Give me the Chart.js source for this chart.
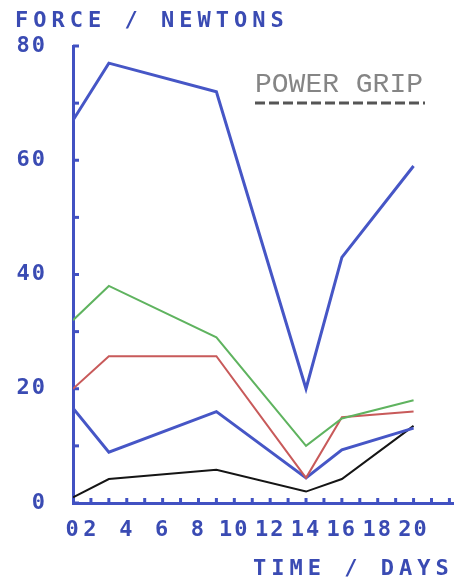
<!DOCTYPE html>
<html>
<head>
<meta charset="utf-8">
<script src="https://cdn.jsdelivr.net/npm/chart.js@4/dist/chart.umd.min.js"></script>
<style>
  html, body { margin: 0; padding: 0; background: #fff; }
  canvas { display: block; }
</style>
</head>
<body>
<canvas id="chart" width="457" height="581"></canvas>
<script>
// datos (x en unidades de marca del eje)
const days = [0, 2, 8, 13, 15, 19];
const powerGrip = [67, 77, 72, 20, 43, 59];
const gripGreen = [32, 38, 29, 10, 14.8, 18];
const gripRed = [20, 25.7, 25.7, 4.4, 15, 16];
const gripBlue = [16.6, 8.9, 16, 4.4, 9.3, 13.1];
const gripBlack = [1, 4.2, 5.8, 2, 4.2, 13.5];

const xTickLabels = ['0', '2', '4', '6', '8', '10', '12', '14', '16', '18', '20'];
const yTickLabels = ['0', '20', '40', '60', '80'];

const yTitle = 'FORCE / NEWTONS';
const xTitle = 'TIME / DAYS';
const seriesLabel = 'POWER GRIP';

const axisBlue = '#4151c2';
const textBlue = '#3a4bb3';

const puntos = (vals) => days.map((d, i) => ({ x: d, y: vals[i] }));

// marcas, titulos y rotulo
const decor = {
  id: 'decor',
  beforeDraw(chart) {
    chart.ctx.letterSpacing = '2px';
  },
  beforeDatasetsDraw(chart) {
    const { ctx, scales: { x, y } } = chart;
    ctx.save();
    ctx.strokeStyle = axisBlue;
    ctx.lineWidth = 3;
    for (let v = 0; v <= 80; v += 10) {
      const py = y.getPixelForValue(v);
      ctx.beginPath();
      ctx.moveTo(x.left, py);
      ctx.lineTo(x.left + 6, py);
      ctx.stroke();
    }
    for (let d = 1; d <= 21; d++) {
      const px = x.getPixelForValue(d);
      ctx.beginPath();
      ctx.moveTo(px, y.bottom);
      ctx.lineTo(px, y.bottom - 5);
      ctx.stroke();
    }
    ctx.restore();
  },
  afterDraw(chart) {
    const { ctx } = chart;
    ctx.save();
    ctx.letterSpacing = '5px';
    ctx.font = 'bold 22px "DejaVu Sans Mono"';
    ctx.fillStyle = textBlue;
    ctx.textBaseline = 'alphabetic';
    ctx.textAlign = 'left';
    ctx.fillText(yTitle, 15, 27);
    ctx.fillText(xTitle, 253, 575);

    ctx.letterSpacing = '0px';
    ctx.font = '28px "Liberation Mono"';
    ctx.fillStyle = '#858585';
    ctx.fillText(seriesLabel, 255, 92);
    ctx.strokeStyle = '#555';
    ctx.lineWidth = 3;
    ctx.setLineDash([10, 4]);
    ctx.beginPath();
    ctx.moveTo(255, 103);
    ctx.lineTo(425, 103);
    ctx.stroke();
    ctx.restore();
    ctx.letterSpacing = '0px';
  }
};

const ctx = document.getElementById('chart').getContext('2d');
new Chart(ctx, {
  type: 'line',
  data: {
    datasets: [
      { label: 'Power grip', data: puntos(powerGrip), borderColor: '#4656c6', borderWidth: 3 },
      { label: 'Verde', data: puntos(gripGreen), borderColor: '#5fb35f', borderWidth: 2 },
      { label: 'Rojo', data: puntos(gripRed), borderColor: '#c85a5a', borderWidth: 2 },
      { label: 'Azul', data: puntos(gripBlue), borderColor: '#4656c6', borderWidth: 3 },
      { label: 'Negro', data: puntos(gripBlack), borderColor: '#151515', borderWidth: 2 }
    ]
  },
  options: {
    responsive: false,
    animation: false,
    devicePixelRatio: 1,
    elements: { point: { radius: 0 }, line: { tension: 0 } },
    layout: { padding: { left: 15, top: 46, right: 4, bottom: 0 } },
    plugins: { legend: { display: false }, tooltip: { enabled: false } },
    scales: {
      x: {
        type: 'linear',
        min: 0,
        max: 21.2,
        afterFit: (s) => { s.height = 78; s.paddingLeft = 0; s.paddingRight = 0; },
        grid: { display: false, drawTicks: false },
        border: { display: true, color: axisBlue, width: 3 },
        ticks: {
          stepSize: 1,
          autoSkip: false,
          maxRotation: 0,
          padding: 14,
          color: textBlue,
          font: { family: 'DejaVu Sans Mono', weight: 'bold', size: 22 },
          callback: (v) => {
            if (!Number.isInteger(v)) return '';
            if (v === 0) return xTickLabels[0];
            if (v % 2 === 1) return xTickLabels[(v + 1) / 2] || '';
            return '';
          }
        }
      },
      y: {
        min: 0,
        max: 80,
        afterFit: (s) => { s.width = 58; },
        grid: { display: false, drawTicks: false },
        border: { display: true, color: axisBlue, width: 3 },
        ticks: {
          stepSize: 10,
          padding: 26,
          color: textBlue,
          font: { family: 'DejaVu Sans Mono', weight: 'bold', size: 22 },
          callback: (v) => (v % 20 === 0 ? yTickLabels[v / 20] : '')
        }
      }
    }
  },
  plugins: [decor]
});
</script>
</body>
</html>
